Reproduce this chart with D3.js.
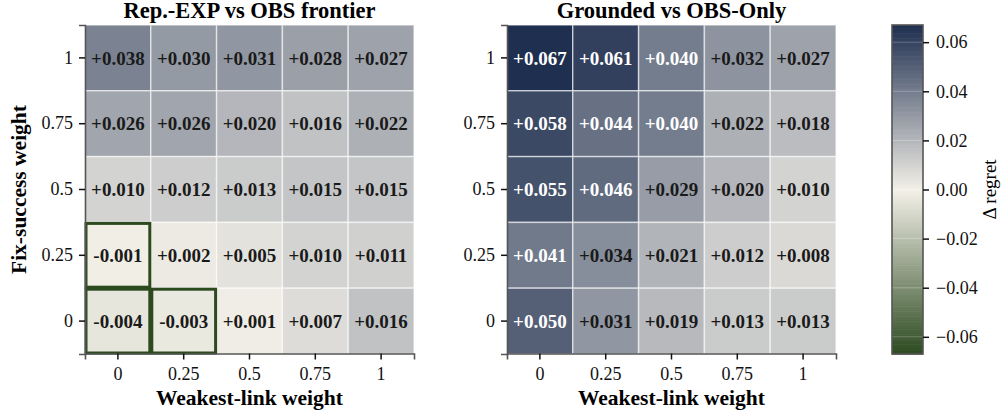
<!DOCTYPE html>
<html>
<head>
<meta charset="utf-8">
<script src="https://cdn.jsdelivr.net/npm/d3@7"></script>
<style>
  body { margin: 0; background: #fff; }
  svg { font-family: "Liberation Serif", "Times New Roman", serif; }
</style>
</head>
<body>
<div id="chart"></div>
<script>
// grid axes
const weakestLink = ["0", "0.25", "0.5", "0.75", "1"];
const fixSuccess = ["1", "0.75", "0.5", "0.25", "0"]; // rows top to bottom

// Δ regret, rows follow fixSuccess order
const repExpVsObs = [
  [0.038, 0.030, 0.031, 0.028, 0.027],
  [0.026, 0.026, 0.020, 0.016, 0.022],
  [0.010, 0.012, 0.013, 0.015, 0.015],
  [-0.001, 0.002, 0.005, 0.010, 0.011],
  [-0.004, -0.003, 0.001, 0.007, 0.016]
];
const groundedVsObs = [
  [0.067, 0.061, 0.040, 0.032, 0.027],
  [0.058, 0.044, 0.040, 0.022, 0.018],
  [0.055, 0.046, 0.029, 0.020, 0.010],
  [0.041, 0.034, 0.021, 0.012, 0.008],
  [0.050, 0.031, 0.019, 0.013, 0.013]
];
// cells outlined in the left panel: [weakest-link, fix-success]
const highlighted = [["0", "0.25"], ["0", "0"], ["0.25", "0"]];

const panels = [
  { title: "Rep.-EXP vs OBS frontier", values: repExpVsObs, marks: highlighted, left: 85 },
  { title: "Grounded vs OBS-Only", values: groundedVsObs, marks: [], left: 507 }
];
const cbTicks = [-0.06, -0.04, -0.02, 0, 0.02, 0.04, 0.06];

var width = 1004, height = 417;
var topY = 25, size = 329;
var vmax = 0.067;

var color = d3.scaleLinear()
  .domain([-vmax, 0, vmax])
  .range(["#2c4a20", "#f3f0e8", "#1f2f50"]);

var svg = d3.select("#chart").append("svg")
  .attr("width", width)
  .attr("height", height);

panels.forEach(function (p) {
  var g = svg.append("g").attr("transform", "translate(" + p.left + "," + topY + ")");

  var x = d3.scaleBand().domain(weakestLink).range([0, size]);
  var y = d3.scaleBand().domain(fixSuccess).range([0, size]);

  var cells = [];
  p.values.forEach(function (row, i) {
    row.forEach(function (v, j) {
      cells.push({ wl: weakestLink[j], fs: fixSuccess[i], v: v });
    });
  });

  g.selectAll("rect.cell")
    .data(cells)
    .enter()
    .append("rect")
    .attr("class", "cell")
    .attr("x", d => x(d.wl))
    .attr("y", d => y(d.fs))
    .attr("width", x.bandwidth())
    .attr("height", y.bandwidth())
    .style("fill", d => color(d.v))
    .style("stroke", "rgba(255,255,255,0.55)")
    .style("stroke-width", 1.5);

  g.selectAll("text.val")
    .data(cells)
    .enter()
    .append("text")
    .attr("class", "val")
    .attr("x", d => x(d.wl) + x.bandwidth() / 2)
    .attr("y", d => y(d.fs) + y.bandwidth() / 2)
    .attr("dy", "0.35em")
    .attr("text-anchor", "middle")
    .style("font-size", "19px")
    .style("font-weight", "bold")
    .style("fill", d => (d.v >= 0.039 ? "#ffffff" : "#1a1a1a"))
    .text(d => (d.v >= 0 ? "+" : "-") + Math.abs(d.v).toFixed(3));

  // outlined cells
  g.selectAll("rect.mark")
    .data(p.marks)
    .enter()
    .append("rect")
    .attr("class", "mark")
    .attr("x", d => x(d[0]) + 1)
    .attr("y", d => y(d[1]) + 1)
    .attr("width", x.bandwidth() - 2)
    .attr("height", y.bandwidth() - 2)
    .style("fill", "none")
    .style("stroke", "#2d4a1f")
    .style("stroke-width", 3);

  // axes
  var xAxis = g.append("g")
    .attr("transform", "translate(0," + (size - 0.5) + ")")
    .call(d3.axisBottom(x).tickSize(6).tickPadding(8));
  var yAxis = g.append("g")
    .call(d3.axisLeft(y).tickSize(6).tickPadding(6));
  [xAxis, yAxis].forEach(function (a) {
    a.select(".domain").attr("stroke", "#555").attr("stroke-width", 1.6);
    a.selectAll(".tick line").attr("stroke", "#111").attr("stroke-width", 1.5);
    a.selectAll(".tick text")
      .style("font-family", "Liberation Serif, serif")
      .style("font-size", "18px")
      .attr("fill", "#111");
  });

  g.append("text")
    .attr("x", size / 2)
    .attr("y", -7)
    .attr("text-anchor", "middle")
    .style("font-size", "22.5px")
    .style("font-weight", "bold")
    .text(p.title);

  g.append("text")
    .attr("x", size / 2)
    .attr("y", 380)
    .attr("text-anchor", "middle")
    .style("font-size", "21.5px")
    .style("font-weight", "bold")
    .text("Weakest-link weight");
});

svg.append("text")
  .attr("transform", "translate(26," + (topY + size / 2) + ") rotate(-90)")
  .attr("text-anchor", "middle")
  .style("font-size", "21.5px")
  .style("font-weight", "bold")
  .text("Fix-success weight");

// colorbar
var cbX = 892, cbW = 31;
var cbY = d3.scaleLinear().domain([-vmax, vmax]).range([topY + size, topY]);
var cb = svg.append("g");
var steps = d3.range(0, 200);
cb.selectAll("rect.step")
  .data(steps)
  .enter()
  .append("rect")
  .attr("class", "step")
  .attr("x", cbX)
  .attr("y", d => cbY(-vmax + (d + 1) * (2 * vmax / 200)))
  .attr("width", cbW)
  .attr("height", size / 200 + 0.6)
  .style("fill", d => color(-vmax + (d + 0.5) * (2 * vmax / 200)));

cb.selectAll("line.grid")
  .data(cbTicks)
  .enter()
  .append("line")
  .attr("x1", cbX)
  .attr("x2", cbX + cbW)
  .attr("y1", d => cbY(d))
  .attr("y2", d => cbY(d))
  .style("stroke", "rgba(255,255,255,0.25)")
  .style("stroke-width", 1);

cb.append("rect")
  .attr("x", cbX)
  .attr("y", topY)
  .attr("width", cbW)
  .attr("height", size)
  .style("fill", "none")
  .style("stroke", "#555")
  .style("stroke-width", 1.6);

var cbAxis = cb.append("g")
  .attr("transform", "translate(" + (cbX + cbW) + ",0)")
  .call(d3.axisRight(cbY).tickValues(cbTicks).tickFormat(d3.format(".2f")).tickSize(6).tickPadding(7));
cbAxis.select(".domain").remove();
cbAxis.selectAll(".tick line").attr("stroke", "#111").attr("stroke-width", 1.5);
cbAxis.selectAll(".tick text")
  .style("font-family", "Liberation Serif, serif")
  .style("font-size", "18px")
  .attr("fill", "#111");

svg.append("text")
  .attr("transform", "translate(996," + (topY + size / 2) + ") rotate(-90)")
  .attr("text-anchor", "middle")
  .style("font-size", "19px")
  .text("Δ regret");
</script>
</body>
</html>
